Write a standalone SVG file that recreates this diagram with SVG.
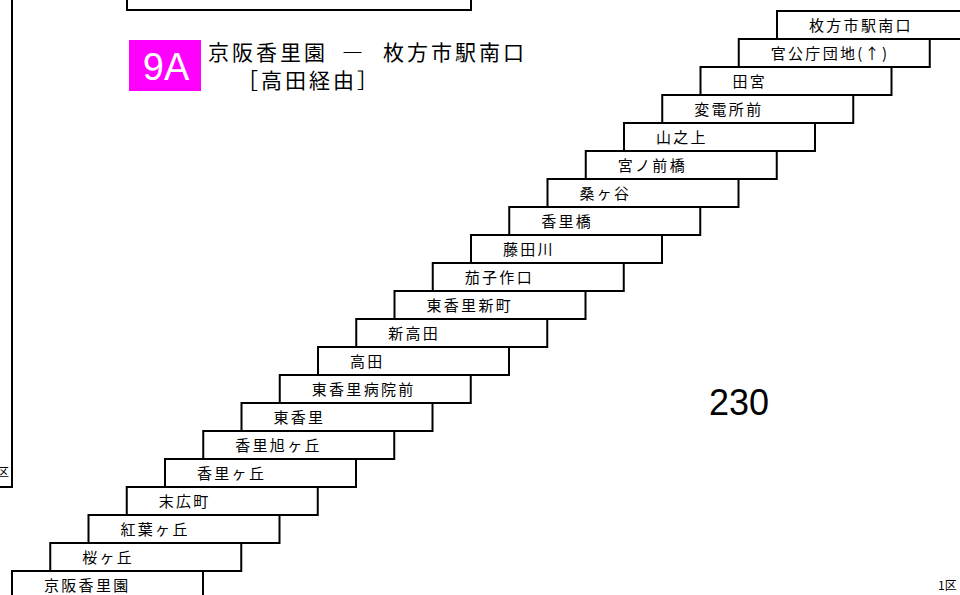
<svg xmlns="http://www.w3.org/2000/svg" width="960" height="595" viewBox="0 0 960 595">
<style>
.b{fill:#fff;stroke:#000;stroke-width:2}
.t{font-family:"Noto Sans CJK JP","Noto Sans CJK SC",sans-serif;font-size:15px;letter-spacing:2.3px;fill:#000}
.h{font-family:"Noto Sans CJK JP","Noto Sans CJK SC",sans-serif;font-size:21px;letter-spacing:3px;fill:#000}
.s{font-family:"Noto Sans CJK JP","Noto Sans CJK SC",sans-serif;font-size:12px;fill:#000}
</style>
<rect width="960" height="595" fill="#fff"/>
<g id="frame">
<rect class="b" x="127" y="-20" width="344" height="30"/>
<path d="M12 -2V487H-2" fill="none" stroke="#000" stroke-width="2"/>
<text class="s" x="-3" y="477">区</text>
</g>
<g id="title">
<rect x="129" y="40" width="72" height="51" fill="#ff00ff"/>
<text x="166" y="80" text-anchor="middle" font-family="Liberation Sans, Arial, sans-serif" font-size="38" fill="#fff">9A</text>
<text class="h" x="208" y="60">京阪香里園</text>
<text class="h" x="342" y="60">―</text>
<text class="h" x="383" y="60">枚方市駅南口</text>
<text class="h" x="237" y="88">［高田経由］</text>
</g>
<g id="s0"><rect class="b" x="12" y="571" width="191" height="28"/><text class="t" x="44" y="591">京阪香里園</text></g>
<g id="s1"><rect class="b" x="50.25" y="543" width="191" height="28"/><text class="t" x="82.25" y="563">桜ヶ丘</text></g>
<g id="s2"><rect class="b" x="88.5" y="515" width="191" height="28"/><text class="t" x="120.5" y="535">紅葉ヶ丘</text></g>
<g id="s3"><rect class="b" x="126.75" y="487" width="191" height="28"/><text class="t" x="158.75" y="507">末広町</text></g>
<g id="s4"><rect class="b" x="165" y="459" width="191" height="28"/><text class="t" x="197" y="479">香里ヶ丘</text></g>
<g id="s5"><rect class="b" x="203.25" y="431" width="191" height="28"/><text class="t" x="235.25" y="451">香里旭ヶ丘</text></g>
<g id="s6"><rect class="b" x="241.5" y="403" width="191" height="28"/><text class="t" x="273.5" y="423">東香里</text></g>
<g id="s7"><rect class="b" x="279.75" y="375" width="191" height="28"/><text class="t" x="311.75" y="395">東香里病院前</text></g>
<g id="s8"><rect class="b" x="318" y="347" width="191" height="28"/><text class="t" x="350" y="367">高田</text></g>
<g id="s9"><rect class="b" x="356.25" y="319" width="191" height="28"/><text class="t" x="388.25" y="339">新高田</text></g>
<g id="s10"><rect class="b" x="394.5" y="291" width="191" height="28"/><text class="t" x="426.5" y="311">東香里新町</text></g>
<g id="s11"><rect class="b" x="432.75" y="263" width="191" height="28"/><text class="t" x="464.75" y="283">茄子作口</text></g>
<g id="s12"><rect class="b" x="471" y="235" width="191" height="28"/><text class="t" x="503" y="255">藤田川</text></g>
<g id="s13"><rect class="b" x="509.25" y="207" width="191" height="28"/><text class="t" x="541.25" y="227">香里橋</text></g>
<g id="s14"><rect class="b" x="547.5" y="179" width="191" height="28"/><text class="t" x="579.5" y="199">桑ヶ谷</text></g>
<g id="s15"><rect class="b" x="585.75" y="151" width="191" height="28"/><text class="t" x="617.75" y="171">宮ノ前橋</text></g>
<g id="s16"><rect class="b" x="624" y="123" width="191" height="28"/><text class="t" x="656" y="143">山之上</text></g>
<g id="s17"><rect class="b" x="662.25" y="95" width="191" height="28"/><text class="t" x="694.25" y="115">変電所前</text></g>
<g id="s18"><rect class="b" x="700.5" y="67" width="191" height="28"/><text class="t" x="732.5" y="87">田宮</text></g>
<g id="s19"><rect class="b" x="738.75" y="39" width="191" height="28"/><text class="t" x="770.75" y="59">官公庁団地(↑)</text></g>
<g id="s20"><rect class="b" x="777" y="11" width="191" height="28"/><text class="t" x="809" y="31">枚方市駅南口</text></g>
<g id="fare">
<text x="709" y="415" font-family="Liberation Sans, Arial, sans-serif" font-size="36" fill="#000">230</text>
<text class="s" x="938" y="590">1区</text>
</g>
<g id="connectors"></g>
</svg>
